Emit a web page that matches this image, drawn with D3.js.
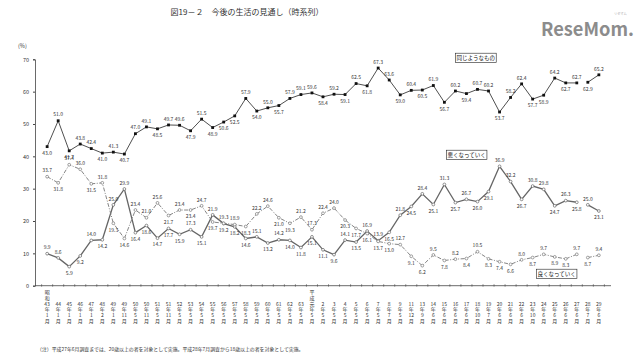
<!DOCTYPE html>
<html><head><meta charset="utf-8">
<script src="https://cdn.jsdelivr.net/npm/d3@7"></script>
<style>
html,body{margin:0;padding:0;background:#fff;}
svg{display:block;}
text{font-family:"Noto Sans CJK JP","Noto Sans",sans-serif;}
</style></head>
<body>
<svg id="c" width="640" height="361"></svg>
<script>
// ---- data ----
const years = ['昭和43','44','45','46','47','48','49','49','50','50','51','51','52','53','54','55','56','57','58','59','60','61','62','63',
  '平成元','2','3','4','5','6','7','8','9','11','13','14','15','16','17','18','19','20','21','22','23','24','25','26','27','28','29'];
const months = ['1','1','1','1','1','2','1','11','5','11','5','11','5','5','5','5','5','5','5','5','5','5','5','5',
  '5','5','5','5','5','5','5','7','5','12','9','6','6','6','6','10','7','6','6','6','10','6','6','6','6','7','6'];
const same = [43.0,51.0,41.7,43.8,42.4,41.0,41.3,40.7,47.0,49.1,48.5,49.7,49.6,47.9,51.5,48.9,50.6,52.5,57.9,54.0,
  55.0,55.7,57.9,59.1,59.6,58.4,59.2,59.1,62.5,61.8,67.3,63.6,59.0,60.4,60.5,61.9,56.7,60.2,59.4,60.7,
  60.2,53.7,58.2,62.4,57.7,58.9,64.2,62.7,62.7,62.9,65.2];
const worse = [9.9,8.6,5.9,9.2,14.0,14.2,25.0,29.9,16.4,18.6,14.7,17.7,15.9,17.3,15.1,21.9,19.2,18.2,14.6,15.1,
  13.2,14.2,14.0,11.8,15.1,11.1,9.6,14.1,13.5,16.9,13.9,16.5,21.8,24.5,28.4,25.1,31.3,25.7,26.7,26.0,
  29.1,36.9,32.2,26.7,30.8,29.8,24.7,26.3,25.8,25.0,23.1];
const better = [33.7,31.8,37.4,36.0,31.5,31.8,19.3,14.6,23.4,21.0,25.6,21.7,23.4,23.4,24.7,19.7,19.3,18.9,18.3,22.2,
  24.6,21.0,19.3,21.2,17.3,22.4,24.0,20.3,17.7,16.1,13.7,13.0,12.7,9.1,6.2,9.5,7.8,8.2,8.4,10.5,
  8.3,7.4,6.6,8.0,8.7,9.7,8.9,8.3,9.7,8.7,9.4];
const seriesNames = ['同じようなもの','悪くなっていく','良くなっていく'];
const yTicks = [0,10,20,30,40,50,60,70];
const breakAfter = 48; // survey change: lines not joined across this point
const title = '図19－２　今後の生活の見通し（時系列）';
const note = '（注）平成27年6月調査までは、20歳以上の者を対象として実施。平成28年7月調査から18歳以上の者を対象として実施。';

// ---- chart ----
const svg = d3.select('#c');
const idx = d3.range(years.length);
const x = d3.scaleBand().domain(idx).range([35, 611]).paddingInner(0).paddingOuter(0.6);
const cx = i => x(i) + x.bandwidth()/2;
const y = d3.scaleLinear().domain([0,70]).range([285.7, 59.3]);

svg.append('text').attr('x',247).attr('y',15).attr('text-anchor','middle')
  .attr('font-size',8).attr('fill','#333').text(title);

// logo
const logo = svg.append('g');
logo.append('text').attr('x',541).attr('y',36).attr('font-size',18.5).attr('font-weight','bold')
  .attr('font-family','Liberation Sans, Arial, sans-serif').attr('fill','#8c8c8c')
  .attr('textLength',93).attr('lengthAdjust','spacingAndGlyphs')
  .text('ReseMom.');
logo.append('text').attr('x',614).attr('y',15).attr('font-size',3.2).attr('fill','#aaa').text('リセマム');

svg.append('text').attr('x',18).attr('y',48).attr('font-size',5.5).attr('fill','#333').text('(%)');

// y axis
const yAxis = svg.append('g').attr('transform','translate(35,0)')
  .call(d3.axisLeft(y).tickValues(yTicks).tickSize(2).tickPadding(4));
yAxis.select('.domain').attr('stroke','#444').attr('stroke-width',0.8);
yAxis.selectAll('.tick line').attr('stroke','#444');
yAxis.selectAll('.tick text').attr('font-size',5.5).attr('fill','#333')
  .attr('font-family','Liberation Sans, Arial, sans-serif');

// x axis
const xg = svg.append('g');
xg.append('line').attr('x1',35).attr('x2',611).attr('y1',y(0)).attr('y2',y(0))
  .attr('stroke','#444').attr('stroke-width',0.8);
const bounds = idx.map(i => x(i)).concat([x(idx[idx.length-1]) + x.bandwidth()]);
xg.selectAll('line.t').data(bounds).join('line').attr('class','t')
  .attr('x1',d=>d).attr('x2',d=>d).attr('y1',y(0)-1.5).attr('y2',y(0)+1)
  .attr('stroke','#444').attr('stroke-width',0.6);

// x labels stacked vertically
const rowH = 5.8, row0 = 305.5;
idx.forEach(i => {
  const m = years[i].match(/^(昭和|平成)?(.+)$/);
  const era = m[1], yr = m[2];
  const g = xg.append('g').attr('font-size',5.0).attr('fill','#333').attr('text-anchor','middle');
  const rows = [yr, '年', months[i], '月'];
  if (era) {
    g.append('text').attr('x',cx(i)).attr('y',row0 - 2*rowH).text(era[0]);
    g.append('text').attr('x',cx(i)).attr('y',row0 - rowH).text(era[1]);
  }
  rows.forEach((t,k) => {
    g.append('text').attr('x',cx(i)).attr('y',row0 + k*rowH).text(t);
  });
});

svg.append('text').attr('x',37).attr('y',351).attr('font-size',4.9).attr('fill','#333').text(note);

// series
const seriesData = [same, worse, better];
const styles = [
  {stroke:'#222', width:0.8, dash:null, marker:'square'},
  {stroke:'#666', width:1.3, dash:null, marker:'circle'},
  {stroke:'#777', width:0.9, dash:'4,1.5,1,1.5', marker:'circle'}
];
const line = d3.line().x(d=>cx(d.i)).y(d=>y(d.v));

function labelAbove(vals, s, i) {
  if (s > 0) {
    const other = s === 1 ? better : worse;
    const diff = vals[i] - other[i];
    if (Math.abs(diff) < 2.5) return diff >= 0;   // lines meet: higher above, lower below
    if (diff < 0 && diff > -6) return false;       // close and lower: keep label under the line
  }
  const nb = [];
  if (i > 0 && i !== breakAfter+1) nb.push(vals[i-1]);
  if (i < vals.length-1 && i !== breakAfter) nb.push(vals[i+1]);
  return nb.length === 0 || vals[i] >= d3.mean(nb);
}

seriesData.forEach((vals, s) => {
  const pts = vals.map((v,i)=>({i, v}));
  const segs = [pts.slice(0, breakAfter+1), pts.slice(breakAfter+1)];
  const st = styles[s];
  const g = svg.append('g');
  segs.forEach(seg => {
    g.append('path').attr('d', line(seg)).attr('fill','none')
      .attr('stroke', st.stroke).attr('stroke-width', st.width)
      .attr('stroke-dasharray', st.dash);
  });
  if (st.marker === 'square') {
    g.selectAll('rect').data(pts).join('rect')
      .attr('x', d=>cx(d.i)-1.4).attr('y', d=>y(d.v)-1.4).attr('width',2.8).attr('height',2.8)
      .attr('fill','#111');
  } else {
    g.selectAll('circle').data(pts).join('circle')
      .attr('cx', d=>cx(d.i)).attr('cy', d=>y(d.v)).attr('r',1.4)
      .attr('fill','#fff').attr('stroke', st.stroke).attr('stroke-width',0.7);
  }
  g.selectAll('text').data(pts).join('text')
    .attr('x', d=>cx(d.i)).attr('text-anchor','middle').attr('font-size',5.0).attr('fill','#333')
    .attr('font-family','Liberation Sans, Arial, sans-serif')
    .attr('y', d => labelAbove(vals, s, d.i) ? y(d.v) - 4.3 : y(d.v) + 8.3)
    .text(d => d.v.toFixed(1));
});

// legend boxes (in-plot labels)
const legendAnchor = [[455, 61], [446, 158], [536, 277]];
seriesNames.forEach((name, k) => {
  const g = svg.append('g');
  const t = g.append('text').attr('x', legendAnchor[k][0]+1.5).attr('y', legendAnchor[k][1]-1.2)
    .attr('font-size',5.5).attr('fill','#111').text(name);
  const bb = t.node().getBBox();
  g.insert('rect','text').attr('x',bb.x-1.2).attr('y',bb.y-0.6).attr('width',bb.width+2.4).attr('height',bb.height+1.2)
    .attr('fill','#fff').attr('stroke','#222').attr('stroke-width',0.6);
});
</script>
</body></html>
